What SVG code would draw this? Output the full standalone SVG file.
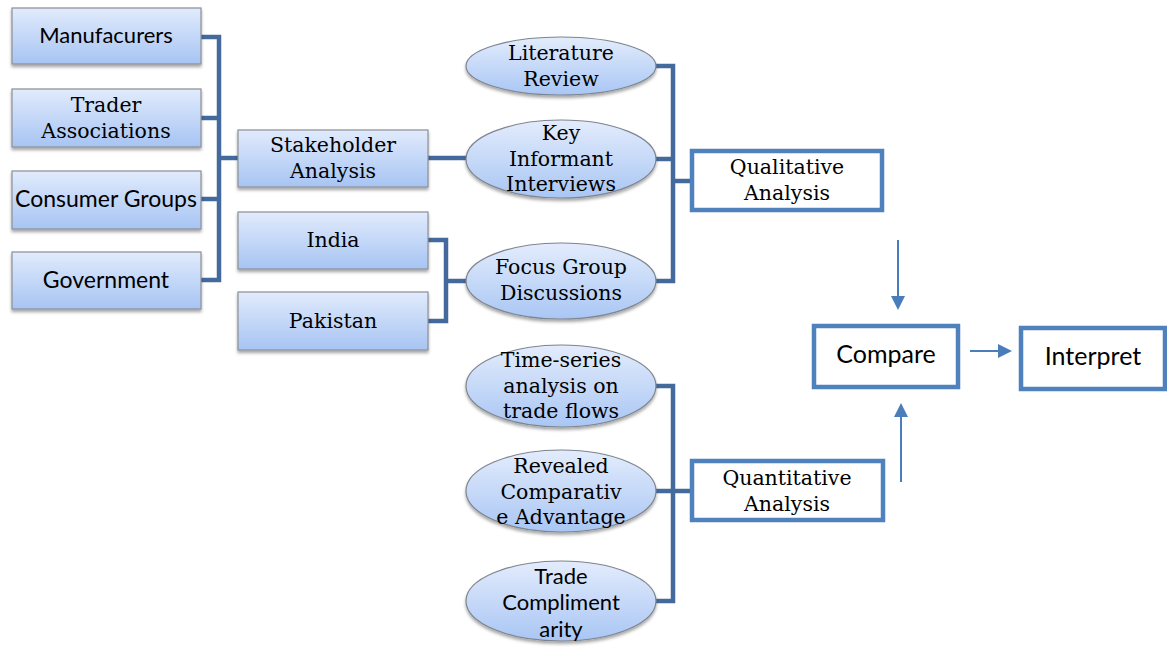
<svg xmlns="http://www.w3.org/2000/svg" width="1167" height="647" viewBox="0 0 1167 647">
<style>
.box{fill:url(#g);stroke:#8a8f96;stroke-width:1.2;filter:url(#sh)}
.ell{fill:url(#ge);stroke:#7e8590;stroke-width:1.2;filter:url(#sh)}
.wb{fill:#fff;stroke:#4f81bd;stroke-width:4.5}
.c{fill:none;stroke:#44699c;stroke-width:4.5;stroke-linejoin:miter}
.ar{fill:none;stroke:#4a7ebb;stroke-width:2}
.s{font-family:"DejaVu Serif","Liberation Serif",serif;font-size:20.5px;fill:#000;text-anchor:middle}
.n{font-family:"Lato","Liberation Sans",sans-serif;font-size:23px;fill:#000;text-anchor:middle}
.big{font-size:25px}
</style>
<defs>
<linearGradient id="g" x1="0" y1="0" x2="0" y2="1"><stop offset="0" stop-color="#e1ebfc"/><stop offset="1" stop-color="#a7c4f3"/></linearGradient>
<linearGradient id="ge" x1="0" y1="0" x2="0" y2="1"><stop offset="0" stop-color="#e3ecfc"/><stop offset="1" stop-color="#a9c6f4"/></linearGradient>
<filter id="sh" x="-10%" y="-10%" width="125%" height="135%"><feDropShadow dx="0" dy="2.5" stdDeviation="1.5" flood-color="#000" flood-opacity="0.35"/></filter>
<marker id="ahb" markerWidth="14" markerHeight="14" refX="12" refY="7" orient="auto" markerUnits="userSpaceOnUse"><path d="M0,0 L14,7 L0,14 Z" fill="#4a7ebb"/></marker>
</defs>
<g id="connectors">
<path class="c" d="M201,37 H219 V280 H201 M201,118 H219 M201,199 H219 M219,158 H238"/>
<path class="c" d="M428,158 H467"/>
<path class="c" d="M428,240 H446 V321 H428 M446,281 H467"/>
<path class="c" d="M655,66 H673 V281 H655 M655,159 H673 M673,181 H692"/>
<path class="c" d="M655,386 H673 V601 H655 M655,491 H673 M673,491 H692"/>
<line class="ar" x1="898" y1="240" x2="898" y2="308" marker-end="url(#ahb)"/>
<line class="ar" x1="901" y1="482" x2="901" y2="405" marker-end="url(#ahb)"/>
<line class="ar" x1="970" y1="351" x2="1010" y2="351" marker-end="url(#ahb)"/>
</g>
<g id="manufacurers"><rect class="box" x="12" y="8" width="189" height="56"/><text class="n" x="106" y="43" style="font-size:22px">Manufacurers</text></g>
<g id="trader-associations"><rect class="box" x="12" y="89" width="189" height="58"/><text class="s" x="106" y="112">Trader</text><text class="s" x="106" y="138">Associations</text></g>
<g id="consumer-groups"><rect class="box" x="12" y="171" width="189" height="58"/><text class="n" x="106" y="207">Consumer Groups</text></g>
<g id="government"><rect class="box" x="12" y="252" width="189" height="57"/><text class="n" x="106" y="288">Government</text></g>
<g id="stakeholder-analysis"><rect class="box" x="238" y="130" width="190" height="57"/><text class="s" x="333" y="152">Stakeholder</text><text class="s" x="333" y="178">Analysis</text></g>
<g id="india"><rect class="box" x="238" y="212" width="190" height="57"/><text class="s" x="333" y="247">India</text></g>
<g id="pakistan"><rect class="box" x="238" y="292" width="190" height="58"/><text class="s" x="333" y="328">Pakistan</text></g>
<g id="literature-review"><ellipse class="ell" cx="561" cy="66" rx="95" ry="29"/><text class="s" x="561" y="60">Literature</text><text class="s" x="561" y="86">Review</text></g>
<g id="key-informant-interviews"><ellipse class="ell" cx="561" cy="159" rx="95" ry="39"/><text class="s" x="561" y="140">Key</text><text class="s" x="561" y="166">Informant</text><text class="s" x="561" y="191">Interviews</text></g>
<g id="focus-group-discussions"><ellipse class="ell" cx="561" cy="281" rx="95" ry="38"/><text class="s" x="561" y="274">Focus Group</text><text class="s" x="561" y="300">Discussions</text></g>
<g id="time-series"><ellipse class="ell" cx="561" cy="386" rx="95" ry="41"/><text class="s" x="561" y="367">Time-series</text><text class="s" x="561" y="393">analysis on</text><text class="s" x="561" y="418">trade flows</text></g>
<g id="revealed-comparative-advantage"><ellipse class="ell" cx="561" cy="491" rx="95" ry="41"/><text class="s" x="561" y="473">Revealed</text><text class="s" x="561" y="499">Comparativ</text><text class="s" x="561" y="524">e Advantage</text></g>
<g id="trade-complimentarity"><ellipse class="ell" cx="561" cy="601" rx="95" ry="40"/><text class="n" x="561" y="584" style="font-size:22px">Trade</text><text class="n" x="561" y="610" style="font-size:22px">Compliment</text><text class="n" x="561" y="637" style="font-size:22px">arity</text></g>
<g id="qualitative-analysis"><rect class="wb" x="692" y="151" width="190" height="59"/><text class="s" x="787" y="174">Qualitative</text><text class="s" x="787" y="200">Analysis</text></g>
<g id="quantitative-analysis"><rect class="wb" x="692" y="461" width="191" height="59"/><text class="s" x="787" y="485">Quantitative</text><text class="s" x="787" y="511">Analysis</text></g>
<g id="compare"><rect class="wb" x="814" y="326" width="144" height="61"/><text class="n big" x="886" y="363">Compare</text></g>
<g id="interpret"><rect class="wb" x="1021" y="328" width="144" height="61"/><text class="n big" x="1093" y="365">Interpret</text></g>
</svg>
